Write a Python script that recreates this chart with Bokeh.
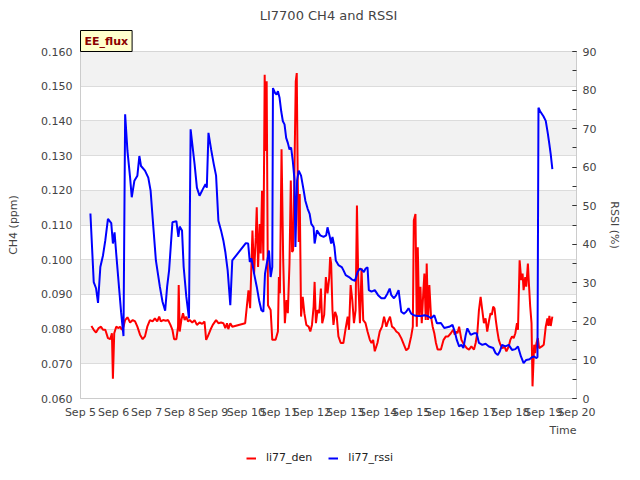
import pandas as pd
from bokeh.plotting import figure
from bokeh.layouts import column
from bokeh.models import (Range1d, LinearAxis, FixedTicker, NumeralTickFormatter,
                          BoxAnnotation, Legend, LegendItem, Title)
from bokeh.embed import file_html
from bokeh.resources import INLINE

# ---- data (days after Sep 5 00:00, values) ----
den_days = [0.33, 0.40, 0.47, 0.55, 0.62, 0.68, 0.75, 0.83, 0.90, 0.95, 0.98, 1.02, 1.08, 1.15, 1.20, 1.25,
            1.30, 1.35, 1.42, 1.50, 1.58, 1.65, 1.72, 1.80, 1.88, 1.95, 2.02, 2.10, 2.18, 2.25, 2.32, 2.38,
            2.43, 2.50, 2.58, 2.65, 2.72, 2.78, 2.83, 2.90, 2.95, 2.97, 3.00, 3.05, 3.10, 3.15, 3.20, 3.25,
            3.30, 3.38, 3.45, 3.52, 3.60, 3.68, 3.75, 3.80, 3.85, 3.93, 4.00, 4.10, 4.17, 4.25, 4.32, 4.38,
            4.43, 4.47, 4.53, 4.59, 4.98, 5.03, 5.08, 5.13, 5.20, 5.25, 5.30, 5.33, 5.37, 5.42, 5.45, 5.49,
            5.53, 5.57, 5.60, 5.63, 5.67, 5.75, 5.80, 5.90, 5.97, 6.00, 6.03, 6.08, 6.13, 6.18, 6.23, 6.27,
            6.32, 6.36, 6.40, 6.43, 6.47, 6.51, 6.54, 6.57, 6.60, 6.63, 6.67, 6.72, 6.77, 6.83, 6.90, 6.95,
            7.00, 7.05, 7.08, 7.12, 7.17, 7.22, 7.27, 7.31, 7.37, 7.42, 7.47, 7.52, 7.55, 7.58, 7.62, 7.65,
            7.70, 7.75, 7.80, 7.87, 7.95, 8.02, 8.08, 8.12, 8.17, 8.22, 8.27, 8.32, 8.36, 8.40, 8.45, 8.50,
            8.55, 8.62, 8.68, 8.75, 8.80, 8.85, 8.90, 8.98, 9.05, 9.12, 9.18, 9.25, 9.30, 9.36, 9.42, 9.48,
            9.55, 9.62, 9.70, 9.78, 9.85, 9.92, 10.00, 10.05, 10.08, 10.13, 10.17, 10.20, 10.24, 10.28, 10.32,
            10.37, 10.40, 10.44, 10.47, 10.51, 10.55, 10.60, 10.65, 10.70, 10.75, 10.80, 10.90, 10.98, 11.05,
            11.12, 11.20, 11.27, 11.32, 11.37, 11.40, 11.45, 11.52, 11.60, 11.68, 11.75, 11.82, 11.90, 11.95,
            12.00, 12.05, 12.10, 12.15, 12.20, 12.25, 12.30, 12.35, 12.40, 12.44, 12.48, 12.52, 12.56, 12.60,
            12.65, 12.70, 12.76, 12.82, 12.88, 12.95, 13.00, 13.05, 13.10, 13.15, 13.20, 13.23, 13.28, 13.33,
            13.37, 13.40, 13.45, 13.48, 13.53, 13.56, 13.60, 13.64, 13.67, 13.72, 13.75, 13.79, 13.83, 13.87,
            13.95, 14.01, 14.07, 14.12, 14.15, 14.18, 14.22, 14.27]
den_vals = [0.0809, 0.0798, 0.0790, 0.0803, 0.0807, 0.0798, 0.0798, 0.0774, 0.0771, 0.0788, 0.0657, 0.0788,
            0.0807, 0.0803, 0.0807, 0.0798, 0.0807, 0.0826, 0.0834, 0.0819, 0.0826, 0.0822, 0.0807, 0.0784,
            0.0771, 0.0779, 0.0807, 0.0826, 0.0822, 0.0831, 0.0822, 0.0836, 0.0822, 0.0826, 0.0824, 0.0826,
            0.0812, 0.0798, 0.0771, 0.0771, 0.0807, 0.0927, 0.0793, 0.0826, 0.0846, 0.0826, 0.0836, 0.0822,
            0.0826, 0.0819, 0.0826, 0.0812, 0.0819, 0.0815, 0.0822, 0.0769, 0.0779, 0.0798, 0.0812, 0.0826,
            0.0817, 0.0819, 0.0817, 0.0803, 0.0817, 0.0800, 0.0817, 0.0807, 0.0817, 0.0865, 0.0912, 0.0860,
            0.1084, 0.0960, 0.1065, 0.1151, 0.0979, 0.1103, 0.1018, 0.1199, 0.0998, 0.1533, 0.1313, 0.1514,
            0.0869, 0.0855, 0.0769, 0.0769, 0.0793, 0.0950, 0.0903, 0.1318, 0.0998, 0.0817, 0.0884, 0.0846,
            0.0989, 0.1228, 0.1022, 0.1027, 0.1256, 0.1514, 0.1538, 0.1228, 0.1051, 0.1189, 0.0836, 0.0893,
            0.0846, 0.0812, 0.0807, 0.0793, 0.0812, 0.0865, 0.0936, 0.0817, 0.0855, 0.0846, 0.0917, 0.0817,
            0.0841, 0.0950, 0.0903, 0.0946, 0.1008, 0.0989, 0.0855, 0.0812, 0.0850, 0.0836, 0.0779, 0.0760,
            0.0760, 0.0803, 0.0836, 0.0798, 0.0927, 0.0884, 0.0817, 0.0855, 0.1156, 0.0941, 0.0817, 0.0975,
            0.0826, 0.0817, 0.0793, 0.0769, 0.0760, 0.0769, 0.0736, 0.0760, 0.0793, 0.0807, 0.0836, 0.0807,
            0.0822, 0.0836, 0.0807, 0.0803, 0.0793, 0.0788, 0.0774, 0.0755, 0.0739, 0.0745, 0.0779, 0.0807,
            0.1113, 0.1132, 0.0807, 0.1036, 0.0836, 0.0922, 0.0817, 0.0912, 0.0960, 0.0826, 0.0989, 0.0826,
            0.0927, 0.0836, 0.0807, 0.0788, 0.0760, 0.0741, 0.0741, 0.0769, 0.0779, 0.0779, 0.0788, 0.0798,
            0.0784, 0.0793, 0.0788, 0.0807, 0.0769, 0.0755, 0.0745, 0.0741, 0.0750, 0.0741, 0.0760, 0.0788,
            0.0855, 0.0893, 0.0855, 0.0817, 0.0831, 0.0793, 0.0822, 0.0846, 0.0841, 0.0865, 0.0860, 0.0826,
            0.0798, 0.0769, 0.0755, 0.0745, 0.0750, 0.0736, 0.0750, 0.0769, 0.0779, 0.0774, 0.0788, 0.0817,
            0.0798, 0.0998, 0.0941, 0.0960, 0.0912, 0.0950, 0.0922, 0.0989, 0.0932, 0.0865, 0.0817, 0.0635,
            0.0755, 0.0731, 0.0760, 0.0774, 0.0745, 0.0750, 0.0755, 0.0807, 0.0831, 0.0809, 0.0838, 0.0809,
            0.0836]

rssi_days = [0.30, 0.40, 0.47, 0.53, 0.60, 0.68, 0.75, 0.83, 0.93, 0.98, 1.03, 1.08, 1.18, 1.23, 1.30, 1.35,
             1.42, 1.50, 1.55, 1.63, 1.72, 1.78, 1.83, 1.95, 2.05, 2.12, 2.18, 2.28, 2.40, 2.48, 2.56, 2.62,
             2.68, 2.78, 2.90, 2.96, 3.00, 3.07, 3.12, 3.20, 3.28, 3.33, 3.45, 3.52, 3.60, 3.70, 3.78, 3.82,
             3.87, 3.95, 4.03, 4.10, 4.17, 4.25, 4.32, 4.38, 4.45, 4.53, 4.59, 5.00, 5.07, 5.12, 5.17, 5.25,
             5.33, 5.40, 5.47, 5.53, 5.58, 5.65, 5.70, 5.75, 5.80, 5.82, 5.88, 5.93, 5.97, 6.02, 6.07, 6.12,
             6.17, 6.22, 6.27, 6.32, 6.37, 6.42, 6.47, 6.50, 6.55, 6.60, 6.67, 6.75, 6.80, 6.87, 6.93, 6.98,
             7.05, 7.08, 7.15, 7.25, 7.35, 7.43, 7.47, 7.53, 7.58, 7.62, 7.68, 7.72, 7.80, 7.90, 7.95, 8.02,
             8.12, 8.20, 8.30, 8.38, 8.45, 8.52, 8.57, 8.62, 8.68, 8.72, 8.80, 8.90, 9.00, 9.10, 9.20, 9.28,
             9.35, 9.40, 9.48, 9.55, 9.62, 9.70, 9.78, 9.85, 9.92, 10.00, 10.08, 10.18, 10.30, 10.40, 10.50,
             10.60, 10.70, 10.78, 10.90, 11.00, 11.15, 11.25, 11.32, 11.38, 11.45, 11.52, 11.58, 11.65, 11.70,
             11.80, 11.90, 11.98, 12.05, 12.15, 12.25, 12.35, 12.48, 12.55, 12.62, 12.68, 12.75, 12.85, 12.95,
             13.05, 13.15, 13.23, 13.32, 13.40, 13.48, 13.58, 13.65, 13.72, 13.78, 13.82, 13.85, 13.90, 14.00,
             14.07, 14.13, 14.18, 14.22, 14.27]
rssi_vals = [48.0, 30.2, 28.6, 24.8, 34.1, 37.1, 41.0, 46.6, 45.5, 40.2, 43.1, 37.6, 27.3, 22.2, 16.2, 73.7,
             64.2, 57.3, 52.2, 56.5, 57.8, 62.9, 60.3, 59.1, 57.3, 53.9, 47.0, 35.8, 29.0, 25.1, 22.8, 29.0,
             33.3, 45.7, 46.0, 41.9, 44.6, 43.6, 34.1, 26.4, 20.8, 69.8, 60.8, 54.7, 52.6, 54.3, 55.6, 54.7,
             68.9, 64.6, 60.8, 57.8, 46.1, 43.6, 41.0, 38.0, 33.3, 24.2, 35.8, 40.3, 40.2, 35.4, 36.3, 32.4,
             29.0, 25.5, 22.9, 22.5, 32.4, 35.8, 38.4, 31.5, 34.1, 80.5, 79.3, 78.8, 79.7, 78.0, 74.5, 71.9,
             71.1, 67.6, 66.3, 64.6, 65.1, 61.6, 56.9, 39.3, 56.5, 59.1, 57.8, 53.9, 51.3, 49.2, 47.9, 45.3,
             44.4, 40.2, 43.6, 42.3, 41.9, 42.3, 44.4, 42.3, 40.2, 41.9, 39.3, 35.8, 34.6, 34.1, 33.3, 32.0,
             31.5, 30.9, 30.5, 32.8, 33.7, 33.3, 32.8, 33.7, 34.0, 28.1, 27.7, 28.1, 26.8, 26.0, 26.0, 27.2,
             28.5, 26.8, 26.0, 26.8, 28.1, 22.5, 22.0, 22.5, 23.4, 22.0, 21.6, 21.4, 21.4, 21.6, 21.4,
             20.8, 21.6, 19.5, 19.6, 18.3, 18.6, 19.1, 17.3, 15.2, 13.5, 13.9, 13.1, 16.5, 18.2,
             16.5, 16.9, 16.9, 14.4, 13.9, 14.2, 13.5, 13.1, 11.8, 11.3, 12.2, 13.9, 13.5, 13.9,
             12.6, 12.8, 13.5, 10.9, 9.2, 10.0, 10.2, 10.7, 10.9, 10.5, 10.7, 75.4, 74.5, 73.2,
             72.0, 68.9, 65.9, 63.4, 59.5]

x_tick_days = list(range(0, 16))
x_tick_labels = ["Sep %d" % (5 + d) for d in x_tick_days]
ch4_ticks = [0.06, 0.07, 0.08, 0.09, 0.10, 0.11, 0.12, 0.13, 0.14, 0.15, 0.16]
rssi_ticks = [0, 10, 20, 30, 40, 50, 60, 70, 80, 90]
band_edges = [(0.15, 0.16), (0.13, 0.14), (0.11, 0.12), (0.09, 0.10), (0.07, 0.08)]

base = pd.Timestamp("2016-09-05")
def to_dt(days):
    return base + pd.to_timedelta(pd.Series(days, dtype=float), unit="D")

FONT = "DejaVu Sans"
GREY = "#444444"

p = figure(width=624, height=436, x_axis_type="datetime",
           x_range=Range1d(base, base + pd.Timedelta(days=15)),
           y_range=Range1d(0.06, 0.16),
           output_backend="svg", toolbar_location=None,
           min_border_left=80, min_border_right=44, min_border_top=50, min_border_bottom=37)
p.extra_y_ranges = {"rssi": Range1d(0, 90)}

p.title.text = "LI7700 CH4 and RSSI"
p.title.align = "center"
p.title.text_font = FONT
p.title.text_font_size = "13px"
p.title.text_font_style = "normal"
p.title.text_color = GREY
p.title.standoff = 11

p.outline_line_color = "#cccccc"
p.background_fill_color = "white"
p.border_fill_color = "white"

for lo, hi in band_edges:
    p.add_layout(BoxAnnotation(bottom=lo, top=hi, fill_color="#f2f2f2", fill_alpha=1.0,
                               line_color=None, level="image"))

p.xgrid.visible = False
p.ygrid.grid_line_color = "#dcdcdc"
p.ygrid.ticker = FixedTicker(ticks=ch4_ticks)

# x axis
tick_ms = [int((base + pd.Timedelta(days=d)).timestamp() * 1000) for d in x_tick_days]
xa = p.xaxis[0]
xa.ticker = FixedTicker(ticks=tick_ms)
xa.major_label_overrides = {t: lab for t, lab in zip(tick_ms, x_tick_labels)}
xa.major_tick_line_color = None
xa.minor_tick_line_color = None
xa.major_tick_out = 0
xa.major_tick_in = 0
xa.axis_line_color = "#cccccc"
xa.major_label_text_font = FONT
xa.major_label_text_font_size = "11px"
xa.major_label_text_color = GREY
xa.major_label_standoff = 7

# left axis
ya = p.yaxis[0]
ya.ticker = FixedTicker(ticks=ch4_ticks)
ya.formatter = NumeralTickFormatter(format="0.000")
ya.axis_label = "CH4 (ppm)"
ya.axis_label_text_font = FONT
ya.axis_label_text_font_size = "11px"
ya.axis_label_text_font_style = "normal"
ya.axis_label_text_color = GREY
ya.axis_label_standoff = 18
ya.major_label_text_font = FONT
ya.major_label_text_font_size = "11px"
ya.major_label_text_color = GREY
ya.major_tick_line_color = None
ya.minor_tick_line_color = None
ya.major_tick_out = 0
ya.major_tick_in = 0
ya.axis_line_color = "#cccccc"
ya.major_label_standoff = 8

# right axis
ra = LinearAxis(y_range_name="rssi", axis_label="RSSI (%)",
                ticker=FixedTicker(ticks=rssi_ticks, minor_ticks=list(range(0, 95, 5))))
ra.axis_label_text_font = FONT
ra.axis_label_text_font_size = "11px"
ra.axis_label_text_font_style = "normal"
ra.axis_label_text_color = GREY
ra.axis_label_standoff = 9
ra.major_label_text_font = FONT
ra.major_label_text_font_size = "11px"
ra.major_label_text_color = GREY
ra.major_tick_in = 4
ra.major_tick_out = 0
ra.minor_tick_in = 4
ra.minor_tick_out = 0
ra.major_tick_line_color = "#333333"
ra.minor_tick_line_color = "#333333"
ra.axis_line_color = "#cccccc"
ra.major_label_standoff = 6
p.add_layout(ra, "right")

r_den = p.line(to_dt(den_days), den_vals, line_color="#ff0000", line_width=2)
r_rssi = p.line(to_dt(rssi_days), rssi_vals, line_color="#0000ff", line_width=2, y_range_name="rssi")

p.add_layout(Title(text="Time", align="right", text_font=FONT, text_font_size="11px",
                   text_font_style="normal", text_color=GREY, standoff=0), "below")

p.add_layout(Title(text="EE_flux", align="left", text_font=FONT, text_font_size="11px",
                   text_font_style="bold", text_color="#8b0000",
                   background_fill_color="#ffffcc", border_line_color="black",
                   padding=4, standoff=0), "above")

# legend strip below the chart (legend-only renderers hold no visible points)
nan = float("nan")
lg = figure(width=624, height=28, x_range=Range1d(0, 1), y_range=Range1d(0, 1),
            output_backend="svg", toolbar_location=None, min_border=0)
lg.axis.visible = False
lg.grid.visible = False
lg.outline_line_color = None
d_den = lg.line([nan], [nan], line_color="#ff0000", line_width=2)
d_rssi = lg.line([nan], [nan], line_color="#0000ff", line_width=2)
legend = Legend(items=[LegendItem(label="li77_den", renderers=[d_den]),
                       LegendItem(label="li77_rssi", renderers=[d_rssi])],
                orientation="horizontal", location=(166, 0),
                border_line_color=None, background_fill_alpha=0,
                label_text_font=FONT, label_text_font_size="11px", label_text_color="#222222",
                glyph_width=10, glyph_height=12, label_standoff=10, spacing=16,
                padding=0, margin=0)
lg.add_layout(legend)

layout = column(p, lg, spacing=0)
open("out.html", "w").write(file_html(layout, INLINE))
